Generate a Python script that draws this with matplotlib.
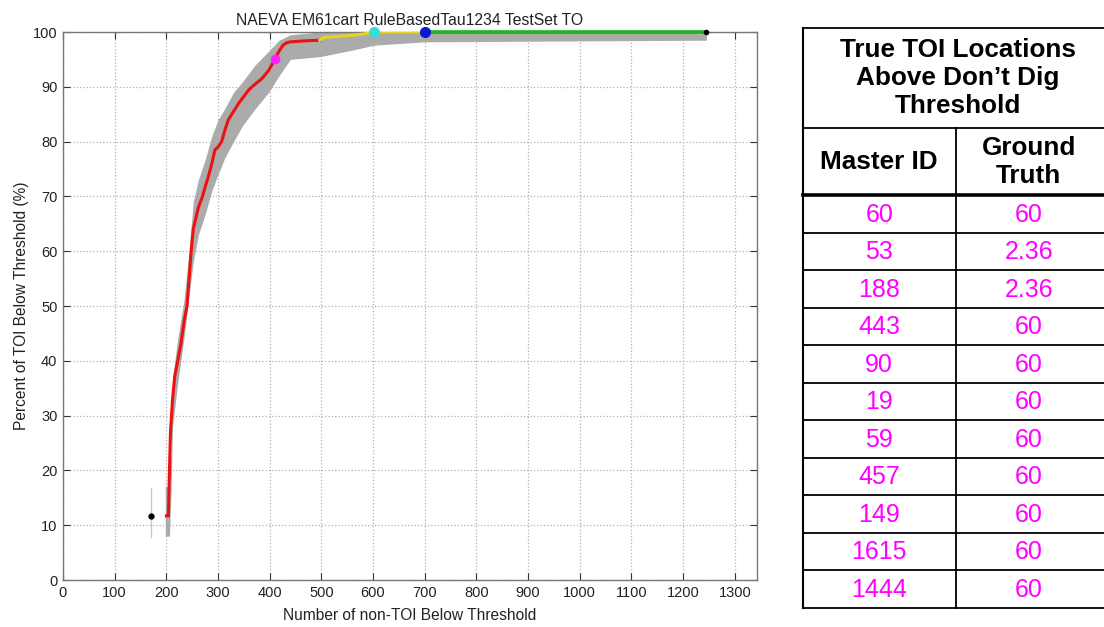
import matplotlib
matplotlib.use("Agg")
import matplotlib.pyplot as plt

plt.rcParams['font.family'] = ['Liberation Sans', 'DejaVu Sans']

# ---- ROC curve data (number of non-TOI vs percent of TOI below threshold) ----
fa_red = [200, 204, 206, 208, 212, 216, 222, 228, 234, 240, 244, 248, 252, 257,
          262, 270, 276, 281, 288, 294, 300, 307, 313, 320, 330, 340, 348, 360,
          372, 385, 398, 410, 418, 425, 432, 440, 470, 497]
pd_red = [11.7, 11.7, 20, 27, 33, 37, 40, 43, 47, 50, 55, 60, 64, 66,
          68, 70, 72, 73.5, 76, 78.5, 79, 80, 82, 84, 85.5, 87, 88, 89.5,
          90.5, 91.5, 93, 95, 96.5, 97.5, 98, 98.2, 98.4, 98.5]

fa_yellow = [497, 505, 530, 560, 585, 602, 700]
pd_yellow = [98.5, 99, 99.2, 99.4, 99.7, 100, 100]

fa_green = [700, 1245]
pd_green = [100, 100]

# confidence band around the curve
band_fa = [198, 206, 209, 212, 222, 234, 244, 252, 262, 276, 288, 300, 313, 330,
           348, 372, 398, 418, 440, 497, 560, 602, 700, 1245]
band_lo = [8, 8, 16, 28, 36, 44, 52, 58, 63, 67, 71, 74, 77, 80,
           83, 86, 89, 92, 95, 95.5, 96.7, 97.6, 98.2, 98.5]
band_hi = [17, 17, 24, 37, 44, 51, 60, 69, 73, 77, 81, 84, 86, 89,
           91, 94, 96.5, 98.5, 99.5, 100, 100, 100, 100, 100]

# operating-point markers
start_fa, start_pd, start_lo, start_hi = 170, 11.7, 7.8, 16.8
magenta_pt = (410, 95)
cyan_pt = (602, 100)
blue_pt = (700, 100)
end_pt = (1245, 100)

x_ticks = list(range(0, 1301, 100))
y_ticks = list(range(0, 101, 10))

# ---- table data ----
table_title = "True TOI Locations\nAbove Don\u2019t Dig\nThreshold"
col_headers = ["Master ID", "Ground\nTruth"]
master_ids = ["60", "53", "188", "443", "90", "19", "59", "457", "149", "1615", "1444"]
ground_truth = ["60", "2.36", "2.36", "60", "60", "60", "60", "60", "60", "60", "60"]

W, H = 1104, 627
fig = plt.figure(figsize=(W / 100, H / 100), dpi=100)
fig.patch.set_facecolor('white')

ax = fig.add_axes([63 / W, (H - 580) / H, (757 - 63) / W, (580 - 32) / H])
ax.set_xlim(0, 1343)
ax.set_ylim(0, 100)

ax.fill_between(band_fa, band_lo, band_hi, color='#ababab', linewidth=0, zorder=2)
ax.plot([start_fa, start_fa], [start_lo, start_hi], color='#c8c8c8', lw=1, zorder=2)
ax.plot(fa_red, pd_red, color='#ee1111', lw=2.2, zorder=3, solid_joinstyle='miter')
ax.plot(fa_yellow, pd_yellow, color='#e6d41e', lw=2.2, zorder=3)
ax.plot(fa_green, pd_green, color='#1fb31f', lw=2.6, zorder=3, clip_on=False)
ax.plot([start_fa], [start_pd], 'o', color='black', ms=3.5, zorder=4)
ax.plot([end_pt[0]], [end_pt[1]], 'o', color='black', ms=3, zorder=4, clip_on=False)
ax.plot([magenta_pt[0]], [magenta_pt[1]], 'o', color='#ff22ff', ms=6, zorder=5)
ax.plot([cyan_pt[0]], [cyan_pt[1]], 'o', color='#33dddd', ms=7, zorder=5, clip_on=False)
ax.plot([blue_pt[0]], [blue_pt[1]], 'o', color='#0a1acc', ms=7, zorder=5, clip_on=False)

ax.set_xticks(x_ticks)
ax.set_yticks(y_ticks)
ax.grid(True, linestyle=':', color='#b0b0b0', linewidth=0.9)
ax.set_axisbelow(True)
ax.tick_params(direction='in', length=5, top=True, right=True,
               labelsize=10.5, color='#333333', labelcolor='#222222', pad=4)
for s in ax.spines.values():
    s.set_color('#777777')
    s.set_linewidth(1.0)

ax.set_title("NAEVA EM61cart RuleBasedTau1234 TestSet TO", fontsize=11.3, pad=5,
             color='#222222')
ax.set_xlabel("Number of non-TOI Below Threshold", fontsize=11.2, labelpad=6,
              color='#222222')
ax.set_ylabel("Percent of TOI Below Threshold (%)", fontsize=11.2, labelpad=3,
              color='#222222')

# ---- table drawn in pixel coordinates ----
tx = fig.add_axes([0, 0, 1, 1])
tx.set_xlim(0, W)
tx.set_ylim(H, 0)
tx.axis('off')
tx.patch.set_alpha(0)

left, mid, right = 803, 955.5, 1106
top, title_bot, head_bot = 28, 127.5, 195
row_h = (607.5 - head_bot) / len(master_ids)
bottom = head_bot + row_h * len(master_ids)

lw_thin = 1.3
tx.plot([left, right], [top, top], color='black', lw=lw_thin, clip_on=False)
tx.plot([left, left], [top, bottom], color='black', lw=1.5)
tx.plot([left, right], [title_bot, title_bot], color='black', lw=lw_thin)
tx.plot([left, right], [head_bot, head_bot], color='black', lw=2.6)
tx.plot([mid, mid], [title_bot, bottom], color='black', lw=lw_thin)
for i in range(1, len(master_ids) + 1):
    y = head_bot + i * row_h
    tx.plot([left, right], [y, y], color='black', lw=lw_thin)

c1 = (left + mid) / 2
c2 = (mid + 1102) / 2
tx.text((left + 1102) / 2 + 5, (top + title_bot) / 2, table_title, ha='center',
        va='center', fontsize=18.8, fontweight='bold', linespacing=1.22)
tx.text(c1, (title_bot + head_bot) / 2 + 1, col_headers[0], ha='center',
        va='center', fontsize=18.8, fontweight='bold')
tx.text(c2, (title_bot + head_bot) / 2 + 1, col_headers[1], ha='center',
        va='center', fontsize=18.8, fontweight='bold', linespacing=1.2)
for i, (m, g) in enumerate(zip(master_ids, ground_truth)):
    yc = head_bot + (i + 0.5) * row_h + 1
    tx.text(c1, yc, m, ha='center', va='center', fontsize=18, color='#ff00ff')
    tx.text(c2, yc, g, ha='center', va='center', fontsize=18, color='#ff00ff')

fig.savefig("out.png", dpi=100)
